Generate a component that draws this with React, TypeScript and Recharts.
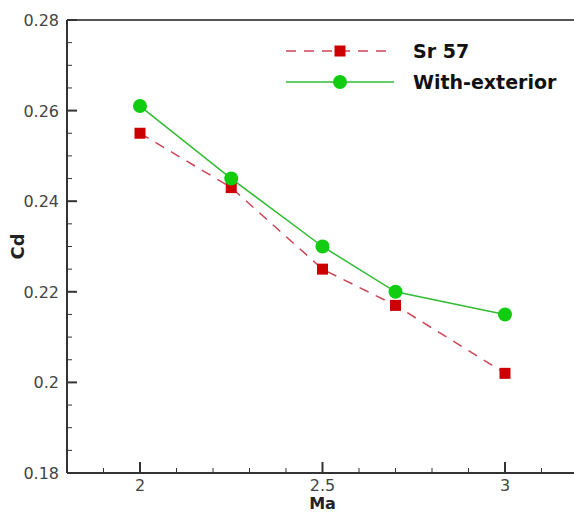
import React from "react";
import { LineChart, Line, XAxis, YAxis, ReferenceLine, Legend } from "recharts";

const machNumbers = [2, 2.25, 2.5, 2.7, 3];
const sr57Cd = [0.255, 0.243, 0.225, 0.217, 0.202];
const withExteriorCd = [0.261, 0.245, 0.23, 0.22, 0.215];

const xTicks = [1.8, 1.9, 2, 2.1, 2.2, 2.3, 2.4, 2.5, 2.6, 2.7, 2.8, 2.9, 3, 3.1, 3.2];
const xLabels = [2, 2.5, 3];
const yTicks = [
	0.18, 0.185, 0.19, 0.195, 0.2, 0.205, 0.21, 0.215, 0.22, 0.225, 0.23, 0.235, 0.24, 0.245, 0.25, 0.255, 0.26, 0.265,
	0.27, 0.275, 0.28,
];
const yLabels = [0.18, 0.2, 0.22, 0.24, 0.26, 0.28];

const data = machNumbers.map((m, i) => ({ ma: m, sr57: sr57Cd[i], exterior: withExteriorCd[i] }));

const FONT = "'DejaVu Sans', sans-serif";
const RED_LINE = "#cc4455";
const RED_MARK = "#cc0000";
const GREEN_LINE = "#33bb33";
const GREEN_MARK = "#11cc11";

const isMajor = (list: number[], v: number) => list.some((l) => Math.abs(l - v) < 1e-6);

const XTick = ({ x, y, payload }: any) => {
	const major = isMajor(xLabels, payload.value);
	return (
		<g>
			<line x1={x} y1={y} x2={x} y2={y - (major ? 11 : 5)} stroke="#333" strokeWidth={major ? 2 : 1} />
			{major && (
				<text x={x} y={y + 18} textAnchor="middle" fill="#444" fontSize={16} fontFamily={FONT}>
					{payload.value}
				</text>
			)}
		</g>
	);
};

const YTick = ({ x, y, payload }: any) => {
	const major = isMajor(yLabels, payload.value);
	return (
		<g>
			<line x1={x} y1={y} x2={x + (major ? 10 : 5)} y2={y} stroke="#333" strokeWidth={major ? 2 : 1} />
			{major && (
				<text x={x - 8} y={y + 6} textAnchor="end" fill="#444" fontSize={16} fontFamily={FONT}>
					{String(payload.value)}
				</text>
			)}
		</g>
	);
};

const SquareDot = (props: any) => {
	const { cx, cy, index } = props;
	return <rect key={`sq-${index}`} x={cx - 5.5} y={cy - 5.5} width={11} height={11} fill={RED_MARK} />;
};

const CircleDot = (props: any) => {
	const { cx, cy, index } = props;
	return <circle key={`ci-${index}`} cx={cx} cy={cy} r={7} fill={GREEN_MARK} />;
};

const legendRows = [
	{ name: "Sr 57", color: RED_LINE, dash: "10 8", marker: "square" },
	{ name: "With-exterior", color: GREEN_LINE, dash: undefined, marker: "circle" },
];

const renderLegend = () => (
	<div style={{ fontFamily: FONT, fontWeight: "bold", fontSize: 19, color: "#111" }}>
		{legendRows.map((r) => (
			<div key={r.name} style={{ display: "flex", alignItems: "center", height: 31 }}>
				<svg width={127} height={20}>
					<line x1={0} y1={10} x2={108} y2={10} stroke={r.color} strokeWidth={1.5} strokeDasharray={r.dash} />
					{r.marker === "square" ? (
						<rect x={48.5} y={4.5} width={11} height={11} fill={RED_MARK} />
					) : (
						<circle cx={54} cy={10} r={7} fill={GREEN_MARK} />
					)}
				</svg>
				<span>{r.name}</span>
			</div>
		))}
	</div>
);

const App = () => {
	return (
		<div style={{ position: "absolute", left: 0, top: 0, width: 574, height: 513, overflow: "hidden", background: "#fff" }}>
			<LineChart width={592} height={513} data={data} margin={{ top: 20, right: 14, bottom: 0, left: 0 }}>
				<XAxis
					dataKey="ma"
					type="number"
					domain={[1.8, 3.2]}
					ticks={xTicks}
					interval={0}
					tickSize={0}
					tickMargin={0}
					tickLine={false}
					tick={<XTick />}
					height={40}
					axisLine={{ stroke: "#333", strokeWidth: 2 }}
					label={{ value: "Ma", position: "insideBottom", offset: 4, fill: "#222", fontSize: 16, fontWeight: "bold", fontFamily: FONT }}
				/>
				<YAxis
					type="number"
					domain={[0.18, 0.28]}
					ticks={yTicks}
					interval={0}
					tickSize={0}
					tickMargin={0}
					tickLine={false}
					tick={<YTick />}
					width={67}
					axisLine={{ stroke: "#333", strokeWidth: 2 }}
					label={{ value: "Cd", angle: -90, position: "insideLeft", offset: 18, textAnchor: "middle", fill: "#222", fontSize: 18, fontWeight: "bold", fontFamily: FONT }}
				/>
				<ReferenceLine y={0.28} stroke="#555" strokeWidth={2} />
				<Legend layout="vertical" align="center" verticalAlign="middle" content={renderLegend} wrapperStyle={{ left: 286, top: 35, width: "auto" }} />
				<Line
					dataKey="sr57"
					name="Sr 57"
					stroke={RED_LINE}
					strokeWidth={1.5}
					strokeDasharray="10 8"
					dot={SquareDot}
					activeDot={false}
					isAnimationActive={false}
				/>
				<Line
					dataKey="exterior"
					name="With-exterior"
					stroke={GREEN_LINE}
					strokeWidth={1.5}
					dot={CircleDot}
					activeDot={false}
					isAnimationActive={false}
				/>
			</LineChart>
		</div>
	);
};

export default App;
